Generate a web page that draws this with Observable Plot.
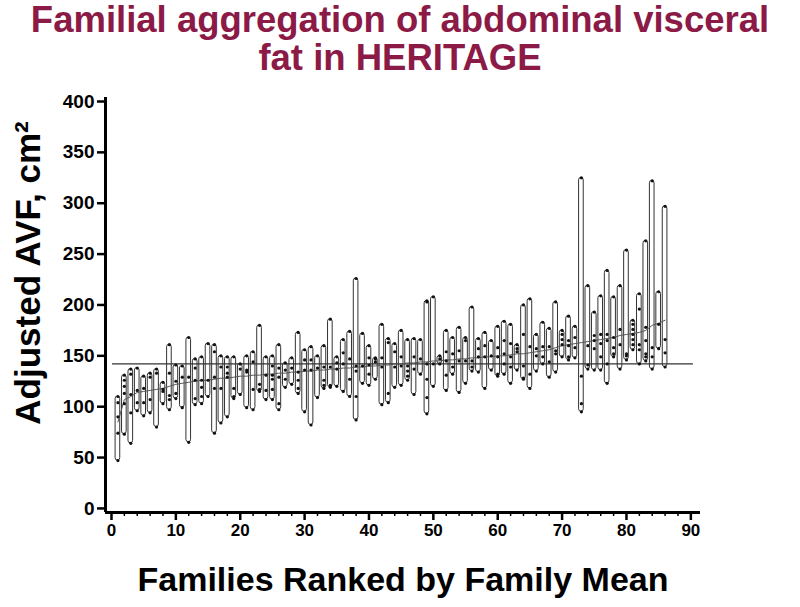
<!DOCTYPE html>
<html>
<head>
<meta charset="utf-8">
<script src="https://cdn.jsdelivr.net/npm/d3@7"></script>
<script src="https://cdn.jsdelivr.net/npm/@observablehq/plot@0.6"></script>
<style>
  body { margin: 0; background: #fff; width: 800px; height: 607px; overflow: hidden; position: relative; }
  #title { position: absolute; top: 1px; left: 0; width: 800px; text-align: center; z-index: 2;
    font-family: "Liberation Sans", Arial, sans-serif; font-weight: bold; font-size: 36.5px;
    line-height: 38px; color: #8c1a46; }
  #chart { position: absolute; top: 0; left: 0; }
</style>
</head>
<body>
<div id="chart"></div>
<div id="title">Familial aggregation of abdominal visceral<br>fat in HERITAGE</div>
<script>
// Family extremes (lowest and highest member), ranked by family mean
const famMin = [47,73,64,96,91,94,80,103,97,108,99,65,102,103,110,74,84,90,108,112,99,97,115,107,107,97,119,122,113,95,82,109,118,119,120,115,110,87,123,121,127,102,104,119,121,126,112,132,93,120,142,116,132,114,123,135,134,118,136,130,132,123,136,127,118,135,142,129,134,149,146,148,95,137,136,136,123,149,137,146,156,142,145,137,157,139];
const famMax = [110,131,137,138,130,133,137,124,161,141,140,168,147,149,162,161,150,149,149,142,150,154,180,149,150,161,143,148,173,156,159,150,160,186,149,166,174,226,172,160,148,181,167,162,175,166,167,166,204,208,150,175,168,178,168,198,167,173,165,179,184,181,161,200,206,171,183,177,203,175,189,179,325,219,193,209,234,208,219,254,185,211,263,322,213,297];
// Other family members inside each range
const famInner = [
  [104,90,74],[126,120,113,103],[132,112,94],[116,104],[118,104],[129,107],[133],[117,115],[133,111,107],[125,113],
  [129],[129],[138,126,108],[126,119,110],[126],[154,129,118],[139,118],[139,133,129],[118,110],[137],
  [136,134],[144,117],[122,117],[131,116],[140,131,127,117],[138,129,103],[136,127],[138],[134,126,118],[146,136],
  [146,136],[138],[139,126,121],[139,121],[143,137],[153,142],[147,127],[140,135,110],[140],[148,141,132],
  [147,144],[148,139],[163,113],[154,139],[149,140],[140,135,130],[149,137],[147],[203,142,127,109],[142],
  [147],[154,145,131],[152,139],[155,145],[165,145],[145,139],[157,149],[160,149],[150],[158,149,132],
  [165,152,142],[162,149,139],[157,154],[171,140,128],[159,132],[157,150],[159,149],[159,144],[155,152],[171,166,161],
  [165,160,149],[168,158],[130,103],[160,141],[170,165,157],[171,162,149],[171,165,142],[168,158,152],[176,161],[152,150],
  [181,176,171,166,161],[196,161,156],[178,165,152,149],[158,149],[181],[166,153]
];
// Family means (rising line)
const famMean = [85,107,110,114,115,116,117,118,120,122,123,124,125,126,126,127,128,128,129,130,130,131,131,132,132,133,133,134,134,135,135,136,136,137,137,138,138,139,139,140,140,141,141,142,142,143,143,144,144,145,145,146,146,147,147,148,148,149,149,150,150,151,152,152,153,154,155,156,158,160,161,162,163,164,165,166,167,168,170,171,172,173,175,180,182,185];
const grandMean = 142;
const yTicks = [0,50,100,150,200,250,300,350,400];
const xTicks = [0,10,20,30,40,50,60,70,80,90];
const xMinorTicks = [2,4,6,8,12,14,16,18,22,24,26,28,32,34,36,38,42,44,46,48,52,54,56,58,62,64,66,68,72,74,76,78,82,84,86,88];

const families = famMin.map((m, i) => ({fam: i + 1, lo: m, hi: famMax[i], mean: famMean[i]}));
const members = [];
families.forEach((f, i) => {
  members.push({fam: f.fam, v: f.lo}, {fam: f.fam, v: f.hi});
  famInner[i].forEach(v => members.push({fam: f.fam, v}));
});

const xLo = -0.93, xHi = 91.5, yLo = -4;
const font = "'Liberation Sans', Arial, sans-serif";

const plot = Plot.plot({
  width: 800,
  height: 607,
  marginTop: 101,
  marginBottom: 95,
  marginLeft: 105,
  marginRight: 100,
  style: {fontFamily: font, fontWeight: "bold", color: "#000", background: "#fff"},
  x: {domain: [xLo, xHi]},
  y: {domain: [yLo, 400]},
  marks: [
    Plot.rect(families, {x1: d => d.fam - 0.36, x2: d => d.fam + 0.36, y1: "lo", y2: "hi",
      fill: "#fff", stroke: "#333", strokeWidth: 1, rx: 2.5}),
    Plot.ruleY([grandMean], {x1: 0.15, x2: 90.4, stroke: "#333", strokeWidth: 1.2}),
    Plot.line(families, {x: "fam", y: "mean", stroke: "#555", strokeWidth: 1}),
    Plot.dot(members, {x: "fam", y: "v", r: 1.6, fill: "#111", stroke: "none"}),
    Plot.ruleX([xLo], {y1: yLo, y2: 404, stroke: "#000", strokeWidth: 3}),
    Plot.ruleY([yLo], {x1: xLo, x2: xHi, stroke: "#000", strokeWidth: 3}),
    Plot.axisY({ticks: yTicks, tickSize: 8, tickPadding: 3, strokeWidth: 2.5, fontSize: 19, fontWeight: "bold", label: null}),
    Plot.axisX({ticks: xTicks, tickSize: 8, tickPadding: 3, strokeWidth: 2.5, fontSize: 17, fontWeight: "bold", label: null}),
    Plot.axisX({ticks: xMinorTicks, tickSize: 4, strokeWidth: 1.5, tickFormat: () => "", label: null}),
    Plot.text(["Families Ranked by Family Mean"], {frameAnchor: "bottom", dy: 68, fontSize: 34, fontWeight: "bold", fill: "#000", lineAnchor: "middle"}),
    Plot.text(["Adjusted AVF, cm²"], {frameAnchor: "left", dx: -77, dy: -34, rotate: -90, textAnchor: "middle", fontSize: 35, fontWeight: "bold", fill: "#000", lineAnchor: "middle"})
  ]
});
document.getElementById("chart").appendChild(plot);
</script>
</body>
</html>
